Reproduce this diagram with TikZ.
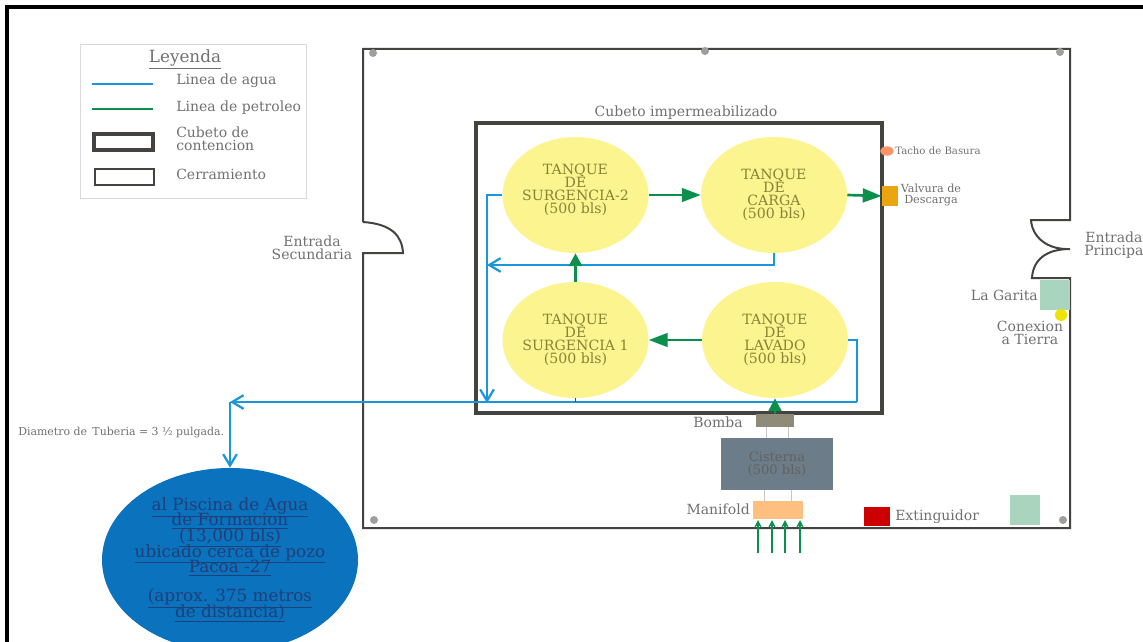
\documentclass[tikz,border=0pt]{standalone}
\usepackage{fontspec}
\setmainfont{DejaVu Serif}
\usetikzlibrary{arrows.meta,shapes.geometric}
\definecolor{agua}{HTML}{1C96DA}
\definecolor{petroleo}{HTML}{0B8F4D}
\definecolor{tanque}{HTML}{FBF48F}
\definecolor{muro}{HTML}{45433F}
\definecolor{etiqueta}{HTML}{707070}
\definecolor{garita}{HTML}{A9D5BF}
\definecolor{cisternagris}{HTML}{6C7D89}
\definecolor{bombagris}{HTML}{8F8B78}
\definecolor{valvulaoro}{HTML}{EBA50F}
\definecolor{piscinazul}{HTML}{0B72BE}
\definecolor{piscinatxt}{HTML}{1F3F78}
\newcommand{\fuentepiscina}{\fontsize{12.6}{11.7}\selectfont\lineskiplimit=-10pt\relax}
\tikzset{
  tanquebox/.style={fill=tanque,ellipse,minimum width=109.5pt,minimum height=87pt,
    inner sep=-6pt,align=center,font=\fontsize{10.6}{9.8}\selectfont,text=black!45!tanque!70!olive},
  rotulo/.style={text=etiqueta,align=center,inner sep=0pt,font=\fontsize{10.5}{9.8}\selectfont},
  rotulochico/.style={rotulo,font=\fontsize{8.4}{8.3}\selectfont},
  linagua/.style={draw=agua,line width=2pt},
  flechagua/.style={linagua,-{Straight Barb[length=3mm,width=3.6mm,line width=1.7pt]}},
  flechapetroleo/.style={draw=petroleo,line width=2pt,-{Stealth[length=5mm,width=3.6mm,inset=0pt]}},
  flechacorta/.style={draw=petroleo,line width=2pt,-{Stealth[length=3.4mm,width=3.4mm,inset=0pt]}},
  flechamanifold/.style={draw=petroleo,line width=1.2pt,-{Stealth[length=2mm,width=2mm,open,fill=white]}},
  enlace/.style={draw=black!22,line width=.5pt},
  poste/.style={circle,fill=black!38,minimum size=6pt,inner sep=0pt},
}
\begin{document}
\begin{tikzpicture}[x=.75pt,y=-.75pt]
  \useasboundingbox (0,0) rectangle (1143,642);
  \draw[black,line width=3pt] (7,642) -- (7,7) -- (1143,7);
  % leyenda
  \node[draw=black!15,line width=.7pt,minimum width=169.5pt,minimum height=115.5pt,inner sep=0pt] (leyenda) at (193,121) {};
  \node[rotulo,font=\fontsize{12.6}{13}\selectfont] (leyendatit) at (185,59) {\underline{Leyenda}};
  \node[rotulo,anchor=west] (lagua) at (176,81) {Linea de agua};
  \node[rotulo,anchor=west] (lpetroleo) at (176,108) {Linea de petroleo};
  \node[rotulo,anchor=west,align=left] (lcubeto) at (176,139) {Cubeto de\\contencion};
  \node[rotulo,anchor=west] (lcerr) at (176,174) {Cerramiento};
  \coordinate (a1) at (92,84);
  \coordinate (a2) at (153,84);
  \coordinate (p1) at (92,109);
  \coordinate (p2) at (153,109);
  \draw[linagua] (a1) -- (a2);
  \draw[draw=petroleo,line width=1.5pt] (p1) -- (p2);
  \draw[muro,line width=2.4pt] (94,134) rectangle (153,150);
  \draw[muro,line width=1.8pt] (95,169) rectangle (154,185);
  % cerramiento
  \draw[muro,line width=1.5pt] (363,222) -- (363,49) -- (1070,49) -- (1070,220) -- (1031,220)
    .. controls (1032,236) and (1046,250) .. (1070,249)
    .. controls (1046,249) and (1033,260) .. (1032,278)
    -- (1070,278) -- (1070,528) -- (363,528) -- (363,253) -- (403,253)
    .. controls (402,236) and (392,224) .. (363,222);
  \foreach \px/\py in {373/53,705/51,1060/52,374/520,1063/520}
    \node[poste] at (\px,\py) {};
  \node[rotulo] (secundaria) at (312,248) {Entrada\\Secundaria};
  \node[rotulo,anchor=west] (principal) at (1084,245) {Entrada\\Principa};
  % cubeto
  \draw[muro,line width=2.6pt] (476,123) rectangle (882,413);
  \node[rotulo] (cubetotit) at (686,113) {Cubeto impermeabilizado};
  \node[tanquebox,text depth=9pt] (surg2) at (575.5,195) {TANQUE\\DE\\SURGENCIA-2\\(500 bls)};
  \node[tanquebox] (carga) at (774,195) {TANQUE\\DE\\CARGA\\(500 bls)};
  \node[tanquebox] (surg1) at (575.5,340) {TANQUE\\DE\\SURGENCIA 1\\(500 bls)};
  \node[tanquebox] (lavado) at (775,340) {TANQUE\\DE\\LAVADO\\(500 bls)};
  % equipos
  \node[fill=bombagris,minimum width=28.5pt,minimum height=10pt,inner sep=0pt] (bomba) at (775,420.5) {};
  \node[rotulo,anchor=east] (bombatxt) at (743,422) {Bomba};
  \node[fill=cisternagris,minimum width=84pt,minimum height=39pt,inner sep=0pt,
    align=center,font=\fontsize{9.8}{9.4}\selectfont,text=black!62] (cisterna) at (777,464) {Cisterna\\(500 bls)};
  \node[fill=orange!50!white,minimum width=37pt,minimum height=13pt,inner sep=0pt] (manifold) at (778,510) {};
  \node[rotulo,anchor=east] (maniftxt) at (750,509) {Manifold};
  \draw[enlace] (766,427) -- (766,438);
  \draw[enlace] (788,427) -- (788,438);
  \draw[enlace] (764,490) -- (764,501);
  \draw[enlace] (791,490) -- (791,501);
  \node[fill=red!80!black,minimum width=20pt,minimum height=14.5pt,inner sep=0pt] (extinguidor) at (877,516.5) {};
  \node[rotulo,anchor=west] (extintxt) at (895,517) {Extinguidor};
  \node[fill=garita,minimum width=23pt,minimum height=22pt,inner sep=0pt] (cuadro) at (1025,510) {};
  \node[fill=garita,minimum width=23pt,minimum height=22pt,inner sep=0pt] (garita) at (1055,295) {};
  \node[rotulo,anchor=east] (garitatxt) at (1038,295) {La Garita};
  \node[circle,fill=yellow!85!olive,minimum size=9pt,inner sep=0pt] (tierra) at (1061,315) {};
  \node[rotulo] (tierratxt) at (1030,333) {Conexion\\a Tierra};
  \node[fill=valvulaoro,minimum width=12pt,minimum height=15pt,inner sep=0pt] (valvula) at (890,196) {};
  \node[rotulochico] (valvulatxt) at (931,195) {Valvura de\\Descarga};
  \node[ellipse,fill=orange!60!red!60!white,minimum width=10pt,minimum height=7pt,inner sep=0pt] (tacho) at (887,151) {};
  \node[rotulochico,anchor=west,font=\fontsize{7.6}{8}\selectfont] (tachotxt) at (895,151) {Tacho de Basura};
  % piscina
  \node[ellipse,fill=piscinazul,minimum width=192pt,minimum height=138pt,inner sep=-12pt,
    align=center,font=\fuentepiscina,text=piscinatxt] (piscina) at (230,560)
    {\underline{al Piscina de Agua}\\\underline{de Formacion}\\\underline{(13,000 bls)}\\\underline{ubicado cerca de pozo}\\\underline{Pacoa -27}\\[10pt]\underline{(aprox. 375 metros}\\\underline{de distancia)}};
  \node[rotulochico,anchor=west,font=\fontsize{8.2}{8.6}\selectfont] (diametro) at (18,433) {Diametro de\enspace Tuberia = 3 ½ pulgada.};
  % lineas de agua
  \coordinate (codo1) at (857,340);
  \coordinate (codo2) at (857,402);
  \coordinate (retorno) at (230,402);
  \coordinate (codo3) at (774,265);
  \coordinate (caida) at (487,403);
  \coordinate (col) at (487,195);
  \draw[linagua] (lavado.east) -- (codo1) -- (codo2);
  \draw[flechagua] (codo2) -- (retorno);
  \draw[flechagua] (retorno) -- (piscina.north);
  \draw[flechagua] (surg2.west) -- (col) -- (caida);
  \draw[flechagua] (carga.south) -- (codo3) -- (col |- codo3);
  \draw[draw=muro,line width=.7pt] (surg1.south) -- (surg1.south |- retorno);
  % lineas de petroleo
  \draw[flechapetroleo] (surg2.east) -- (carga.west);
  \draw[flechapetroleo] (carga.east) -- (valvula.west);
  \draw[flechapetroleo] (lavado.west) -- (surg1.east);
  \draw[flechacorta] (surg1.north) -- (surg2.south);
  \draw[flechacorta] (bomba.north) -- (lavado.south);
  \foreach \mx in {758,772,785,800}{
    \coordinate (m\mx) at (\mx,553);
    \draw[flechamanifold] (m\mx) -- (\mx,520);
  }
\end{tikzpicture}
\end{document}
